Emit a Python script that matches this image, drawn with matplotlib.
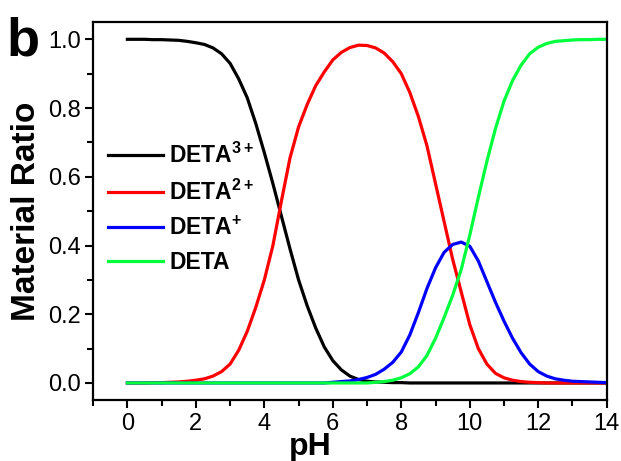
import matplotlib
matplotlib.use("Agg")
import matplotlib.pyplot as plt
from matplotlib.ticker import MultipleLocator, FormatStrFormatter
import numpy as np

plt.rcParams['font.family'] = ['Liberation Sans', 'DejaVu Sans']
plt.rcParams['mathtext.fontset'] = 'custom'
plt.rcParams['mathtext.rm'] = 'Liberation Sans:bold'
plt.rcParams['mathtext.bf'] = 'Liberation Sans:bold'
plt.rcParams['mathtext.default'] = 'bf'

# pH grid (step 0.25) and species fractions
ph = np.arange(0, 14.01, 0.25)

deta3 = [1.0, 1.0, 1.0, 0.999, 0.999, 0.998, 0.997, 0.994, 0.99, 0.985,
         0.975, 0.958, 0.93, 0.885, 0.83, 0.755, 0.67, 0.58, 0.485, 0.39,
         0.30, 0.225, 0.16, 0.105, 0.065, 0.038, 0.02, 0.01, 0.005, 0.003,
         0.002, 0.001, 0.001] + [0.0] * 24

deta2 = [0.0, 0.0, 0.0, 0.001, 0.001, 0.002, 0.003, 0.005, 0.008, 0.012,
         0.02, 0.033, 0.055, 0.095, 0.15, 0.22, 0.30, 0.40, 0.53, 0.655,
         0.745, 0.81, 0.865, 0.905, 0.94, 0.962, 0.976, 0.983, 0.982, 0.975,
         0.96, 0.935, 0.90, 0.845, 0.775, 0.69, 0.58, 0.47, 0.36, 0.265,
         0.17, 0.10, 0.055, 0.028, 0.015, 0.008, 0.004, 0.002, 0.001] + [0.0] * 8

deta1 = [0.0] * 24 + [0.002, 0.004, 0.006, 0.01, 0.016, 0.025, 0.04, 0.06,
         0.09, 0.14, 0.205, 0.275, 0.335, 0.38, 0.403, 0.41, 0.398, 0.355,
         0.295, 0.235, 0.18, 0.13, 0.088, 0.055, 0.033, 0.02, 0.012, 0.008,
         0.005, 0.004, 0.003, 0.002, 0.001]

deta0 = [0.0] * 29 + [0.002, 0.004, 0.008, 0.015, 0.027, 0.047, 0.08, 0.13,
         0.19, 0.255, 0.33, 0.43, 0.54, 0.645, 0.74, 0.82, 0.88, 0.925,
         0.958, 0.977, 0.988, 0.994, 0.996, 0.998, 0.999, 0.999, 1.0, 1.0]

labels = ['DETA$^{3+}$', 'DETA$^{2+}$', 'DETA$^{+}$', 'DETA']
colors = ['#000000', '#ff0000', '#0000ff', '#00ff3c']

fig = plt.figure(figsize=(6.21, 4.61), dpi=100)
ax = fig.add_axes([0.150, 0.132, 0.827, 0.820])

for ys, lab, c in zip([deta3, deta2, deta1, deta0], labels, colors):
    ax.plot(ph, ys, color=c, linewidth=2.3, label=lab,
            solid_joinstyle='round')

ax.set_xlim(-1, 14)
ax.set_ylim(-0.05, 1.05)
ax.xaxis.set_major_locator(MultipleLocator(2))
ax.xaxis.set_minor_locator(MultipleLocator(1))
ax.yaxis.set_major_locator(MultipleLocator(0.2))
ax.yaxis.set_minor_locator(MultipleLocator(0.1))
ax.yaxis.set_major_formatter(FormatStrFormatter('%.1f'))

ax.tick_params(which='both', direction='out', top=False, right=False,
               width=1.5, labelsize=17, pad=3)
ax.tick_params(which='major', length=6)
ax.tick_params(which='minor', length=4)
for s in ax.spines.values():
    s.set_linewidth(1.6)

ax.set_xlabel('pH', fontsize=23, fontweight='bold')
ax.xaxis.set_label_coords(0.422, -0.085, transform=ax.transAxes)
ax.xaxis.label.set_va('top')
ax.set_ylabel('Material Ratio', fontsize=24, fontweight='bold')
ax.yaxis.set_label_coords(-0.10, 0.5, transform=ax.transAxes)

ax.legend(loc='upper left', bbox_to_anchor=(0.028, 0.68), frameon=False,
          prop={'weight': 'bold', 'size': 16.5}, handlelength=2.4,
          handletextpad=0.3, labelspacing=0.5, borderpad=0, borderaxespad=0)

fig.text(0.01, 0.965, 'b', fontsize=39, fontweight='bold', va='top', ha='left')

fig.savefig('out.png', dpi=100)
